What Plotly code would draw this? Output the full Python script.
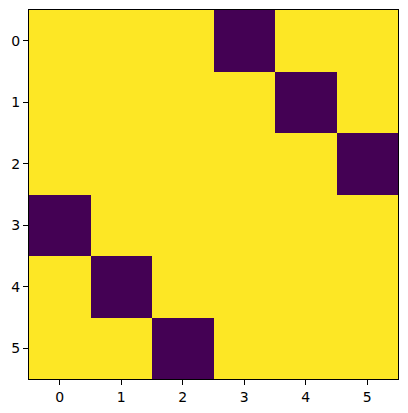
import plotly.graph_objects as go

rows = [0, 1, 2, 3, 4, 5]
cols = [0, 1, 2, 3, 4, 5]
values = [
    [1, 1, 1, 0, 1, 1],
    [1, 1, 1, 1, 0, 1],
    [1, 1, 1, 1, 1, 0],
    [0, 1, 1, 1, 1, 1],
    [1, 0, 1, 1, 1, 1],
    [1, 1, 0, 1, 1, 1],
]
tick_labels = ["0", "1", "2", "3", "4", "5"]

fig = go.Figure(go.Heatmap(
    z=values, x=cols, y=rows,
    colorscale=[[0, "#440154"], [1, "#fde725"]],
    showscale=False, zmin=0, zmax=1,
))

axis_common = dict(
    tickmode="array", tickvals=cols, ticktext=tick_labels,
    ticks="outside", ticklen=5, tickwidth=1, tickcolor="black",
    showline=True, linecolor="black", linewidth=1, mirror=True,
    showgrid=False, zeroline=False, automargin=False,
    tickfont=dict(family="DejaVu Sans", size=14, color="black"),
)

# page body has an 8px margin, so the figure is shifted by (8, 8)
fig.update_layout(
    width=392, height=397,
    margin=dict(l=21, r=2, t=2, b=26),
    paper_bgcolor="white", plot_bgcolor="white",
    xaxis=dict(range=[-0.5, 5.5], **axis_common),
    yaxis=dict(range=[5.5, -0.5], **axis_common),
)

fig.write_html("out.html")
